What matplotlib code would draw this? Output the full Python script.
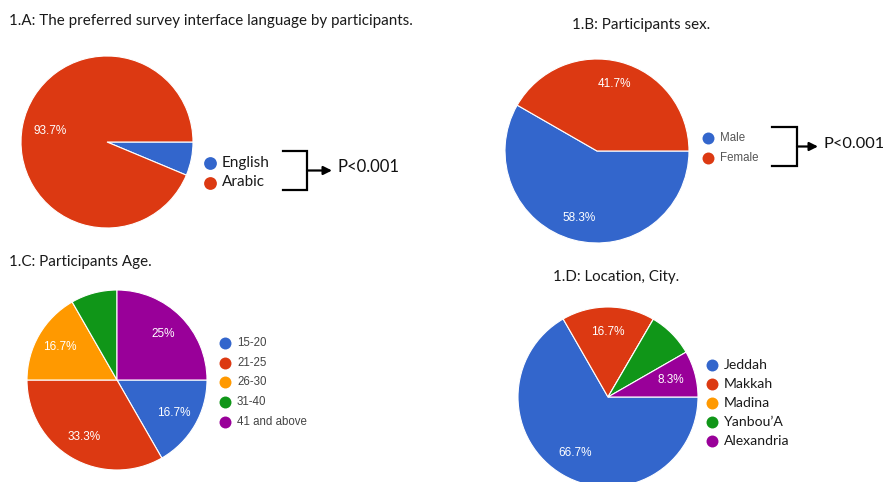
import matplotlib
matplotlib.use("Agg")
import matplotlib.pyplot as plt
import numpy as np

# ---- data ----
lang_labels = ["English", "Arabic"]
lang_values = [6.3, 93.7]
lang_shown = [None, "93.7%"]

sex_labels = ["Male", "Female"]
sex_values = [58.3, 41.7]
sex_shown = ["58.3%", "41.7%"]

age_labels = ["15-20", "21-25", "26-30", "31-40", "41 and above"]
age_values = [16.7, 33.3, 16.7, 8.3, 25.0]
age_shown = ["16.7%", "33.3%", "16.7%", None, "25%"]

city_labels = ["Jeddah", "Makkah", "Madina", "Yanbou\u2019A", "Alexandria"]
city_values = [66.7, 16.7, 0.0, 8.3, 8.3]
city_shown = ["66.7%", "16.7%", None, None, "8.3%"]

titles = ["1.A: The preferred survey interface language by participants.",
          "1.B: Participants sex.",
          "1.C: Participants Age.",
          "1.D: Location, City."]
p_text = "P<0.001"

COLORS = ["#3366cc", "#dc3912", "#ff9900", "#109618", "#990099"]

W, H = 887, 482
DPI = 100
fig = plt.figure(figsize=(W / DPI, H / DPI), dpi=DPI)
fig.patch.set_facecolor("white")

CAL = ["Lato", "DejaVu Sans"]
ARI = ["Liberation Sans", "DejaVu Sans"]


def pie_at(cx, cy, r, values, shown, pctd):
    ax = fig.add_axes([(cx - r) / W, 1 - (cy + r) / H, 2 * r / W, 2 * r / H])
    vals = [v if v > 0 else 1e-9 for v in values]
    wedges, _ = ax.pie(vals, colors=COLORS[:len(vals)], startangle=0,
                       counterclock=False, radius=1.0,
                       wedgeprops=dict(edgecolor="white", linewidth=0.8))
    for w, s in zip(wedges, shown):
        if s is None:
            continue
        mid = np.deg2rad((w.theta1 + w.theta2) / 2)
        ax.text(pctd * np.cos(mid), pctd * np.sin(mid), s, color="white",
                ha="center", va="center", fontsize=8.5, family=ARI)
    ax.set_xlim(-1, 1)
    ax.set_ylim(-1, 1)
    ax.set_aspect("equal")
    ax.axis("off")
    return ax


pie_at(107, 142, 86, lang_values, lang_shown, 0.68)
pie_at(597, 151, 92, sex_values, sex_shown, 0.75)
pie_at(117, 380, 90, age_values, age_shown, 0.73)
pie_at(608, 397, 90, city_values, city_shown, 0.72)

ov = fig.add_axes([0, 0, 1, 1])
ov.set_xlim(0, W)
ov.set_ylim(H, 0)
ov.axis("off")
ov.patch.set_alpha(0)

TC = "#1a1a1a"
TFS = 10.9
ov.text(9, 21, titles[0], fontsize=TFS, family=CAL, color=TC, va="center", ha="left")
ov.text(572, 25, titles[1], fontsize=TFS, family=CAL, color=TC, va="center", ha="left")
ov.text(9, 262, titles[2], fontsize=TFS, family=CAL, color=TC, va="center", ha="left")
ov.text(553, 277, titles[3], fontsize=TFS, family=CAL, color=TC, va="center", ha="left")


def legend(x, y0, dy, labels, fam, fs, col, ms):
    for i, lab in enumerate(labels):
        y = y0 + i * dy
        ov.plot([x], [y], "o", color=COLORS[i], markersize=ms, markeredgewidth=0)
        ov.text(x + 12, y, lab, fontsize=fs, family=fam, color=col, va="center", ha="left")


legend(210, 163, 19.5, lang_labels, CAL, 11, TC, 9.2)
legend(708, 138, 20, sex_labels, ARI, 8.3, "#555555", 8.6)
legend(225, 343, 19.7, age_labels, ARI, 8.3, "#444444", 8.6)
legend(712, 365, 19, city_labels, CAL, 10.1, TC, 8.6)


def bracket(x0, x1, ytop, ybot, xarrow, xtext, fs):
    ym = (ytop + ybot) / 2
    ov.plot([x0, x1, x1, x0], [ytop, ytop, ybot, ybot], color="black", lw=1.6,
            solid_joinstyle="miter")
    ov.annotate("", xy=(xarrow, ym), xytext=(x1, ym),
                arrowprops=dict(arrowstyle="-|>,head_length=0.5,head_width=0.25",
                                color="black", lw=1.6, shrinkA=0, shrinkB=0))
    ov.text(xtext, ym - 3, p_text, fontsize=fs, family=CAL, color="#111111",
            va="center", ha="left")


bracket(283, 307, 151, 190, 332, 338, 12)
bracket(772, 797, 127, 166, 818, 824, 11.8)

fig.savefig("out.png", dpi=DPI, facecolor="white")
